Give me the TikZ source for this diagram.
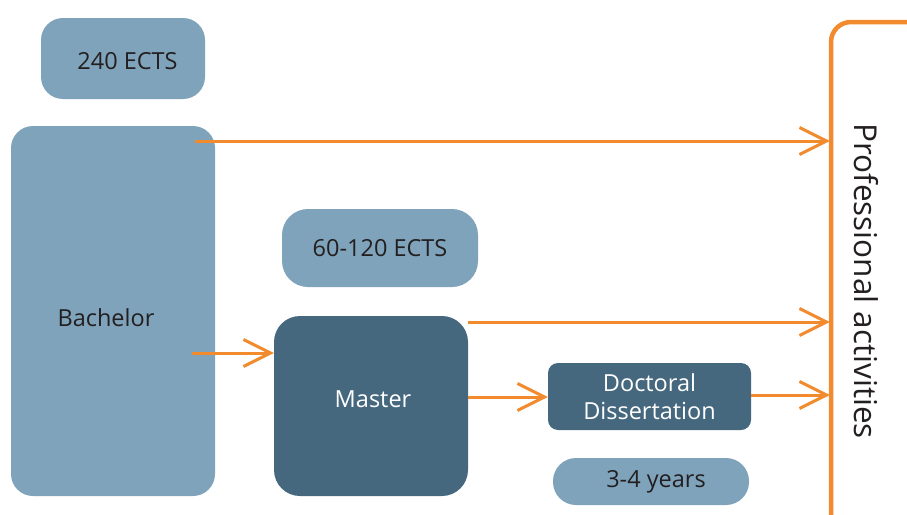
\documentclass[tikz,border=0pt]{standalone}
\usepackage{fontspec}
\setmainfont{Open Sans}
\usetikzlibrary{arrows.meta}
\definecolor{lightbox}{HTML}{7FA3BA}
\definecolor{darkbox}{HTML}{46687F}
\definecolor{orng}{HTML}{F28A2E}
\definecolor{txt}{HTML}{231F20}
\tikzset{
  lbox/.style={fill=lightbox, draw=none, text=txt, inner sep=0pt, font=\fontsize{23.5}{28}\selectfont},
  dbox/.style={fill=darkbox, draw=none, text=white, inner sep=0pt, font=\fontsize{23.5}{28}\selectfont},
  lbl/.style={text=txt, inner sep=0pt, font=\fontsize{23.5}{28}\selectfont},
  flow/.style={draw=orng, line width=3pt, -{Straight Barb[length=27pt, width=27pt, line width=3pt]}},
}
\begin{document}
\begin{tikzpicture}[x=1pt,y=-1pt]
\useasboundingbox (0,0) rectangle (907,514);
\clip (0,0) rectangle (907,514);
\node[lbox, minimum width=164pt, minimum height=81pt, rounded corners=22pt] (e240) at (123,58.5) {};
\node[lbl] (e240t) at (127.5,61) {240 ECTS};
\node[lbox, minimum width=204pt, minimum height=370pt, rounded corners=22pt] (bach) at (113,311) {};
\node[lbl] (bacht) at (106,318) {Bachelor};
\node[lbox, minimum width=196pt, minimum height=78pt, rounded corners=26pt] (e60) at (380,248) {60-120 ECTS};
\node[dbox, minimum width=194pt, minimum height=180pt, rounded corners=26pt] (master) at (371,406) {};
\node[lbl, text=white] (mastert) at (373,399) {Master};
\node[dbox, minimum width=203pt, minimum height=67pt, rounded corners=10pt, align=center] (doc) at (649.5,396.5) {Doctoral\\Dissertation};
\node[lbox, minimum width=196pt, minimum height=47pt, rounded corners=23pt] (years) at (651,481.5) {};
\node[lbl] (yearst) at (656,482) {3-4 years};
% professional activities frame
\node[draw=none, minimum width=120pt, minimum height=540pt, inner sep=0pt] (prof) at (890,290) {};
\draw[orng, line width=4.5pt, rounded corners=20pt] (831,560) -- (831,22) -- (960,22);
\node[rotate=-90, text=txt, font=\fontsize{31.5}{36}\selectfont] (proflabel) at (866,281) {Professional activities};
% connectors
\coordinate (b1) at (195,141);
\coordinate (b2) at (192,353);
\coordinate (m1) at (468,322);
\draw[flow] (b1) -- (prof.west |- b1);
\draw[flow] (m1) -- (prof.west |- m1);
\draw[flow] (b2) -- (master.west |- b2);
\draw[flow] (master.east |- 0,397) -- (doc.west |- 0,397);
\draw[flow] (doc.east |- 0,395) -- (prof.west |- 0,395);
\end{tikzpicture}
\end{document}
